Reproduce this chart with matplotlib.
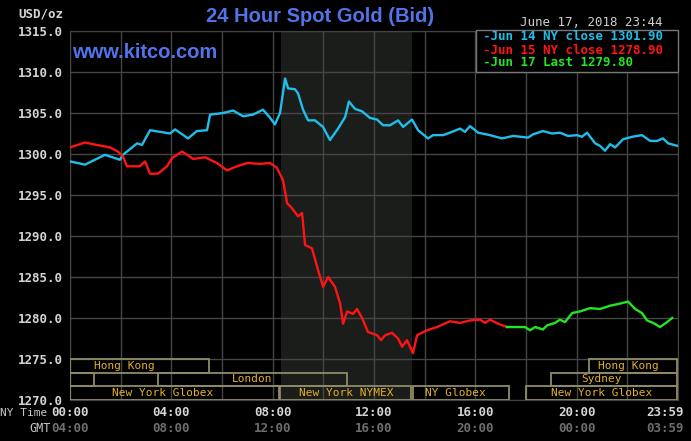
import matplotlib
matplotlib.use("Agg")
import matplotlib.pyplot as plt
from matplotlib.patches import Rectangle
from matplotlib import transforms
import numpy as np

# hours since 00:00 NY time, price in USD/oz
jun14_hours = [0.00, 0.59, 1.38, 1.97, 2.09, 2.65, 2.84, 3.16, 3.95, 4.15, 4.66, 5.01, 5.41,
               5.53, 6.04, 6.44, 6.83, 7.22, 7.62, 7.90, 8.09, 8.29, 8.49, 8.61, 8.88, 9.00,
               9.20, 9.40, 9.67, 9.99, 10.26, 10.58, 10.86, 11.01, 11.25, 11.53, 11.84, 12.12,
               12.36, 12.63, 12.95, 13.15, 13.50, 13.74, 14.13, 14.33, 14.73, 15.08, 15.40,
               15.59, 15.79, 16.11, 16.58, 17.05, 17.49, 18.08, 18.28, 18.67, 19.03, 19.34,
               19.66, 20.02, 20.21, 20.41, 20.73, 20.92, 21.12, 21.32, 21.52, 21.83, 22.19,
               22.58, 22.90, 23.18, 23.41, 23.61, 23.97]
jun14_price = [1299.1, 1298.7, 1299.9, 1299.3, 1299.9, 1301.3, 1301.1, 1302.9, 1302.5, 1303.0,
               1301.9, 1302.8, 1302.9, 1304.8, 1305.0, 1305.3, 1304.6, 1304.8, 1305.4, 1304.4,
               1303.6, 1305.0, 1309.2, 1308.0, 1307.9, 1307.4, 1305.4, 1304.1, 1304.1, 1303.3,
               1301.7, 1303.1, 1304.5, 1306.4, 1305.5, 1305.2, 1304.4, 1304.2, 1303.5, 1303.5,
               1304.1, 1303.3, 1304.2, 1302.9, 1301.9, 1302.3, 1302.3, 1302.7, 1303.1, 1302.7,
               1303.4, 1302.6, 1302.3, 1301.9, 1302.2, 1302.0, 1302.4, 1302.8, 1302.5, 1302.6,
               1302.2, 1302.3, 1302.1, 1302.6, 1301.3, 1301.0, 1300.4, 1301.2, 1300.8, 1301.8,
               1302.1, 1302.3, 1301.6, 1301.6, 1301.9, 1301.3, 1301.0]

jun15_hours = [0.00, 0.59, 1.07, 1.58, 1.89, 2.09, 2.25, 2.76, 2.96, 3.16, 3.47, 3.83, 4.03,
               4.42, 4.62, 4.86, 5.33, 5.80, 6.20, 6.59, 6.99, 7.50, 7.90, 8.17, 8.41, 8.57,
               8.76, 9.00, 9.16, 9.28, 9.55, 9.75, 9.99, 10.19, 10.46, 10.66, 10.78, 10.94,
               11.17, 11.33, 11.53, 11.76, 12.12, 12.28, 12.44, 12.71, 12.95, 13.11, 13.30,
               13.54, 13.70, 14.09, 14.49, 15.00, 15.40, 15.79, 16.19, 16.38, 16.58, 16.90, 17.25]
jun15_price = [1300.8, 1301.4, 1301.1, 1300.8, 1300.3, 1299.7, 1298.5, 1298.5, 1299.1, 1297.6,
               1297.6, 1298.5, 1299.5, 1300.3, 1299.9, 1299.4, 1299.6, 1298.9, 1298.0, 1298.5,
               1298.9, 1298.8, 1298.9, 1298.3, 1296.8, 1294.0, 1293.4, 1292.4, 1292.8, 1288.9,
               1288.5, 1286.3, 1283.8, 1285.0, 1283.8, 1281.8, 1279.3, 1280.8, 1280.5, 1281.1,
               1280.0, 1278.3, 1277.9, 1277.3, 1277.9, 1278.2, 1277.5, 1276.5, 1277.3, 1275.7,
               1277.9, 1278.5, 1278.9, 1279.6, 1279.4, 1279.7, 1279.8, 1279.4, 1279.8, 1279.3, 1278.9]

jun17_hours = [17.25, 17.96, 18.16, 18.36, 18.67, 18.83, 19.15, 19.34, 19.54, 19.82, 20.13,
               20.53, 20.92, 21.32, 21.63, 22.03, 22.31, 22.58, 22.78, 23.02, 23.29, 23.57, 23.77]
jun17_price = [1278.9, 1278.9, 1278.5, 1278.9, 1278.6, 1279.1, 1279.4, 1279.8, 1279.5, 1280.6,
               1280.8, 1281.2, 1281.1, 1281.5, 1281.7, 1282.0, 1281.1, 1280.6, 1279.7, 1279.4,
               1278.9, 1279.5, 1280.0]

legend_labels = ["-Jun 14 NY close 1301.90", "-Jun 15 NY close 1278.90", "-Jun 17 Last 1279.80"]

ny_ticks = [0, 4, 8, 12, 16, 20, 24]
ny_labels = ["00:00", "04:00", "08:00", "12:00", "16:00", "20:00", "23:59"]
gmt_labels = ["04:00", "08:00", "12:00", "16:00", "20:00", "00:00", "03:59"]

# trading sessions: label, start hour, end hour, row (0 = top), label centre hour
sess_label = ["Hong Kong", "", "London", "New York Globex", "New York NYMEX", "NY Globex",
              "New York Globex", "Sydney", "Hong Kong"]
sess_start = [0.0, 0.0, 3.47, 0.0, 8.29, 13.54, 18.0, 19.0, 20.5]
sess_end = [5.5, 0.95, 10.93, 8.25, 13.46, 17.33, 23.96, 23.96, 23.96]
sess_row = [0, 1, 1, 2, 2, 2, 2, 1, 0]
sess_text_at = [2.13, 0.5, 7.17, 3.66, 10.9, 15.2, 20.98, 20.98, 22.05]

nymex_open, nymex_close = 8.33, 13.5

BG = "black"
GRID = "#454545"
CYAN = "#1fbfec"
RED = "#ff1414"
GREEN = "#22e622"
BLUE = "#5274ea"
GOLD = "#e0b02a"
BOXC = "#8e8c66"
MONO = "DejaVu Sans Mono"

fig = plt.figure(figsize=(6.91, 4.41), dpi=100, facecolor=BG)
ax = fig.add_axes([70 / 691, 41 / 441, 608 / 691, 369 / 441], facecolor=BG)

ax.set_xlim(0, 24)
ax.set_ylim(1270, 1315)
ax.axvspan(nymex_open, nymex_close, color="#1b1d1b", zorder=0.2, lw=0)

ax.set_xticks(np.arange(0, 25, 2))
ax.set_xticklabels([])
ax.set_yticks(np.arange(1270, 1316, 5))
ax.set_yticklabels([f"{v:.1f}" for v in np.arange(1270, 1316, 5)],
                   fontfamily=MONO, fontweight="bold", fontsize=9, color="#d4d4d4")
ax.tick_params(length=0, pad=5)
ax.set_axisbelow(True)
ax.grid(True, color=GRID, lw=1)
for s in ax.spines.values():
    s.set_color(GRID)

ax.plot(jun14_hours, jun14_price, color=CYAN, lw=1.7, zorder=3)
ax.plot(jun15_hours, jun15_price, color=RED, lw=1.7, zorder=3)
ax.plot(jun17_hours, jun17_price, color=GREEN, lw=1.7, zorder=4)

# session boxes in the bottom band (1270 - 1275)
row_h = 5 / 3
for lab, a, b, r, tx in zip(sess_label, sess_start, sess_end, sess_row, sess_text_at):
    y0 = 1275 - (r + 1) * row_h
    ax.add_patch(Rectangle((a, y0), b - a, row_h, fill=False, ec=BOXC, lw=1.3, zorder=5))
    if lab:
        ax.text(tx, y0 + row_h / 2, lab, ha="center", va="center", color=GOLD,
                fontfamily=MONO, fontsize=8, zorder=6)

# time labels under the axis
xt = transforms.blended_transform_factory(ax.transData, fig.transFigure)
for i, (t, ny, gmt) in enumerate(zip(ny_ticks, ny_labels, gmt_labels)):
    ha = "center"
    tr = xt
    if i == len(ny_ticks) - 1:
        ha = "right"
        tr = transforms.offset_copy(xt, fig=fig, x=6, y=0, units="dots")
    fig.text(t, 1 - 413 / 441, ny, transform=tr, ha=ha, va="center", color="#d4d4d4",
             fontfamily=MONO, fontweight="bold", fontsize=9)
    fig.text(t, 1 - 428 / 441, gmt, transform=tr, ha=ha, va="center", color="#6e6e6e",
             fontfamily=MONO, fontweight="bold", fontsize=9)

fig.text(0.5 / 691, 1 - 413 / 441, "NY Time", ha="left", va="center", color="#c8c8c8",
         fontfamily=MONO, fontsize=8)
fig.text(51 / 691, 1 - 428 / 441, "GMT", ha="right", va="center", color="#c8c8c8",
         fontfamily=MONO, fontsize=8.5)

fig.text(18 / 691, 1 - 14 / 441, "USD/oz", ha="left", va="center", color="#d4d4d4",
         fontfamily=MONO, fontweight="bold", fontsize=9)
fig.text(320 / 691, 1 - 16 / 441, "24 Hour Spot Gold (Bid)", ha="center", va="center",
         color=BLUE, fontfamily="Liberation Sans", fontweight="bold", fontsize=14.5)
fig.text(72 / 691, 1 - 52 / 441, "www.kitco.com", ha="left", va="center",
         color=BLUE, fontfamily="Liberation Sans", fontweight="bold", fontsize=14.5)
fig.text(520 / 691, 1 - 22 / 441, "June 17, 2018 23:44", ha="left", va="center",
         color="#cfcfcf", fontfamily=MONO, fontsize=9)

# legend box
fig.patches.append(Rectangle((476 / 691, 1 - 72 / 441), 202 / 691, 42 / 441,
                             transform=fig.transFigure, fc=BG, ec="#777777", lw=1, zorder=10))
for j, (lab, c) in enumerate(zip(legend_labels, [CYAN, RED, GREEN])):
    fig.text(483 / 691, 1 - (37 + 13 * j) / 441, lab, ha="left", va="center", color=c,
             fontfamily=MONO, fontweight="bold", fontsize=9, zorder=11)

fig.savefig("out.png", dpi=100, facecolor=BG)
